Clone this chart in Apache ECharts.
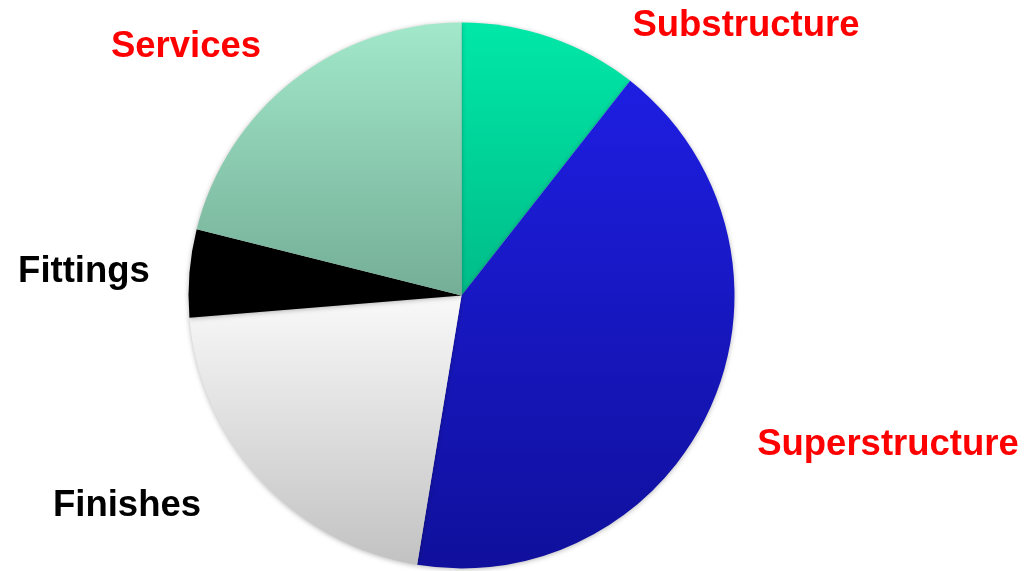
<!DOCTYPE html>
<html>
<head>
<meta charset="utf-8">
<style>
  html, body { margin: 0; padding: 0; background: #ffffff; }
  #chart { width: 1030px; height: 571px; }
</style>
<script src="https://cdn.jsdelivr.net/npm/echarts@6/dist/echarts.min.js"></script>
</head>
<body>
<div id="chart"></div>
<script>
// Building cost breakdown (percent of total)
const categories = ['Substructure', 'Superstructure', 'Finishes', 'Fittings', 'Services'];
const values = [10.6, 42.0, 21.1, 5.2, 21.1];

// Slice fills: vertical gradient [top, bottom]
const sliceColors = [
  ['#00E8A8', '#00BC88'],
  ['#1E1EE2', '#10109C'],
  ['#F9F9F9', '#C2C2C2'],
  ['#000000', '#000000'],
  ['#A2E8CA', '#74AE96']
];
const labelColors = ['#FF0000', '#FF0000', '#000000', '#000000', '#FF0000'];
// Label anchor points (label centres)
const labelSpots = [
  [746, 26], [888, 445], [127, 506], [84, 272], [186, 47]
];

const chart = echarts.init(document.getElementById('chart'), null, { renderer: 'canvas' });

const data = categories.map((name, i) => ({
  name,
  value: values[i],
  itemStyle: {
    color: new echarts.graphic.LinearGradient(0, 0, 0, 1, [
      { offset: 0, color: sliceColors[i][0] },
      { offset: 1, color: sliceColors[i][1] }
    ])
  },
  label: { color: labelColors[i] }
}));

chart.setOption({
  animation: false,
  backgroundColor: '#ffffff',
  series: [{
    type: 'pie',
    center: [461.5, 295.5],
    radius: [0, 273],
    startAngle: 90,
    clockwise: true,
    avoidLabelOverlap: false,
    data,
    itemStyle: {
      borderWidth: 0,
      shadowBlur: 5,
      shadowColor: 'rgba(0,0,0,0.28)',
      shadowOffsetY: 1
    },
    label: {
      show: true,
      position: 'outside',
      formatter: '{b}',
      fontFamily: '"Liberation Sans", Arial, sans-serif',
      fontWeight: 'bold',
      fontSize: 36.5
    },
    labelLine: { show: false },
    labelLayout: function (params) {
      const p = labelSpots[params.dataIndex];
      return { x: p[0], y: p[1], align: 'center', verticalAlign: 'middle', hideOverlap: false };
    },
    emphasis: { disabled: true }
  }]
});
</script>
</body>
</html>
